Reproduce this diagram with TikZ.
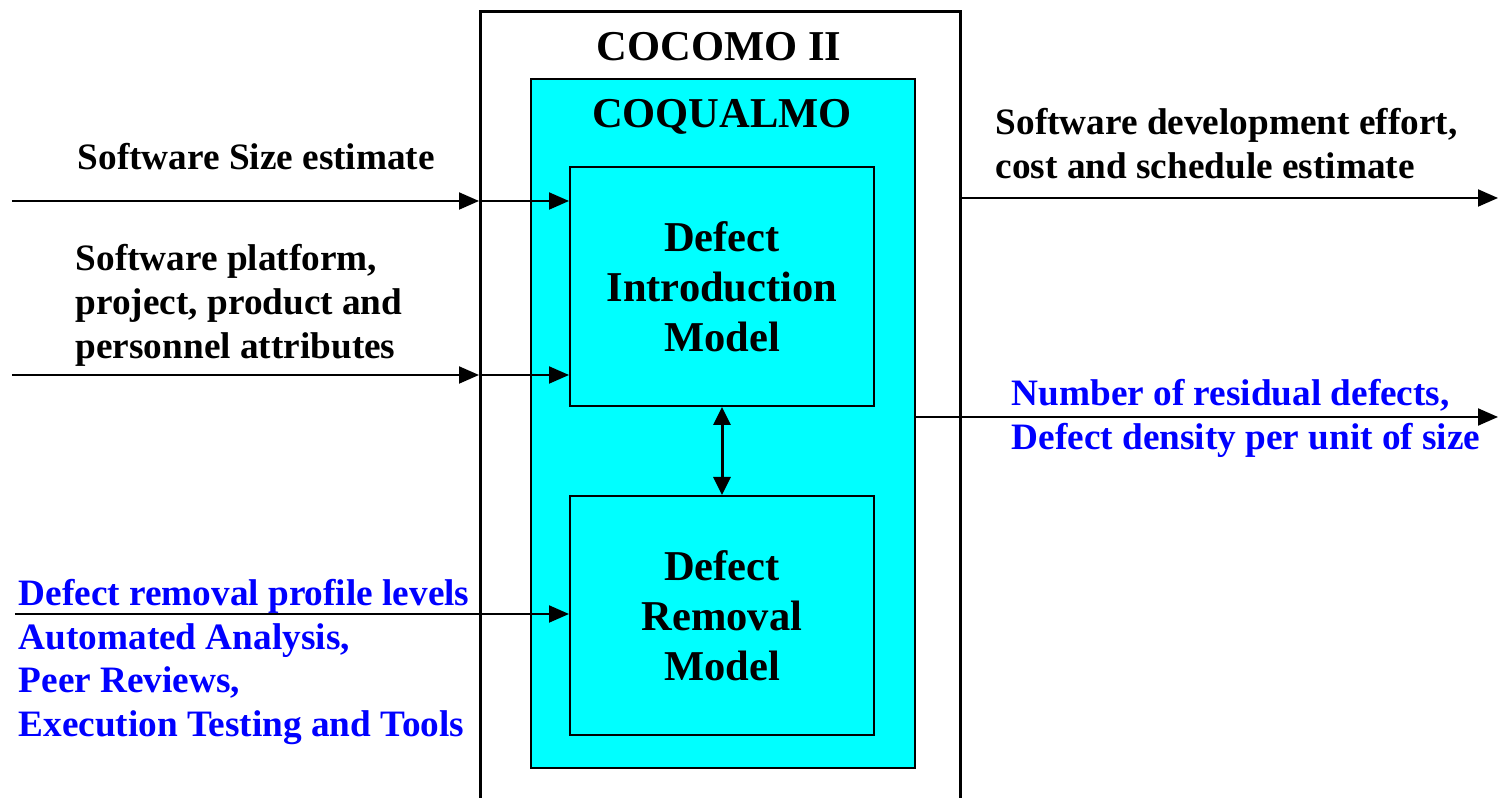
\documentclass[tikz,border=0pt]{standalone}
\usepackage{fontspec}
\setmainfont{Liberation Serif}
\usepackage{xcolor}
\usetikzlibrary{arrows.meta,positioning}

\definecolor{modelcyan}{RGB}{0,255,255}
\definecolor{notblue}{RGB}{0,0,255}

\newcommand{\modelfont}{\fontsize{12.1}{14.2}\selectfont\bfseries}
\newcommand{\labelfont}{\fontsize{10.6}{12.5}\selectfont\bfseries}

\begin{document}
\begin{tikzpicture}[
    node distance=0.88cm,
    outer/.style={rectangle, draw, line width=0.03cm, minimum width=4.8cm, minimum height=9cm, inner sep=0pt},
    inner/.style={rectangle, draw, line width=0.02cm, fill=modelcyan, minimum width=3.84cm, minimum height=6.89cm, inner sep=0pt},
    model/.style={rectangle, draw, line width=0.02cm, fill=modelcyan, minimum width=3.04cm, minimum height=2.39cm, align=center, font=\modelfont},
    title/.style={font=\modelfont, inner sep=0pt},
    lbl/.style={font=\labelfont, align=left, inner sep=0pt, anchor=west},
    arrow/.style={-{Triangle[length=0.2cm,width=0.17cm]}, line width=0.02cm},
    twoway/.style={{Triangle[length=0.18cm,width=0.17cm]}-{Triangle[length=0.18cm,width=0.17cm]}, line width=0.03cm}
]
    \clip (0,0) rectangle (14.98,-7.98);

    % Boxes
    \node[outer, anchor=north west] (cocomo) at (4.79,-0.10) {};
    \node[inner, anchor=north west] (coqualmo) at (5.30,-0.78) {};
    \node[model] (dim) at (7.22,-2.865) {Defect\\Introduction\\Model};
    \node[model, below=of dim] (drm) {Defect\\Removal\\Model};

    \node[title] (cocomotitle) at (7.19,-0.47) {COCOMO II};
    \node[title] (coqualmotitle) at (7.22,-1.17) {COQUALMO};

    % Inputs
    \coordinate (sizein) at (0.12,-2.01);
    \coordinate (attrin) at (0.12,-3.75);
    \coordinate (profilein) at (0.15,-6.14);

    \draw[arrow] (sizein) -- (sizein -| cocomo.west);
    \draw[arrow] (sizein -| cocomo.west) -- (sizein -| dim.west);
    \draw[arrow] (attrin) -- (attrin -| cocomo.west);
    \draw[arrow] (attrin -| cocomo.west) -- (attrin -| dim.west);
    \draw[arrow] (profilein) -- (profilein -| drm.west);
    \draw[twoway] (dim) -- (drm);

    % Outputs
    \coordinate (effortout) at (14.98,-1.98);
    \coordinate (defectout) at (14.98,-4.17);
    \draw[arrow] (effortout -| cocomo.east) -- (effortout);
    \draw[arrow] (defectout -| coqualmo.east) -- (defectout);

    % Labels
    \node[lbl] (sizelbl) at (0.77,-1.57) {Software Size estimate};
    \node[lbl] (attrlbl) at (0.75,-3.05) {Software platform,\\project, product and\\personnel attributes};
    \node[lbl, text=notblue] (profilelbl) at (0.18,-6.62) {Defect removal profile levels\\Automated Analysis,\\Peer Reviews,\\Execution Testing and Tools};
    \node[lbl] (effortlbl) at (9.95,-1.435) {Software development effort,\\cost and schedule estimate};
    \node[lbl, text=notblue] (defectlbl) at (10.11,-4.18) {Number of residual defects,\\Defect density per unit of size};

\end{tikzpicture}
\end{document}
